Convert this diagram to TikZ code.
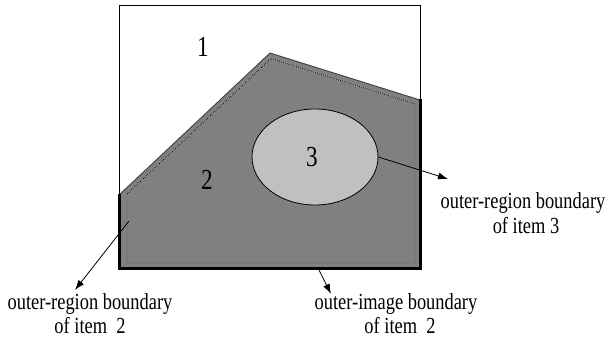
\documentclass[tikz,border=0pt]{standalone}
\usepackage{fontspec}
\setmainfont{Liberation Serif}
\newfontfamily\condserif[FakeStretch=0.8]{Liberation Serif}
\usetikzlibrary{shapes.geometric,arrows.meta}
\definecolor{regiongray}{HTML}{808080}
\definecolor{itemgray}{HTML}{C0C0C0}
\tikzset{
  lbl/.style={inner sep=0pt,anchor=base,font=\condserif\fontsize{23}{26}\selectfont},
  num/.style={inner sep=0pt,font=\condserif\fontsize{29}{32}\selectfont},
  pointer/.style={draw=black,line width=0.8pt,-{Latex[length=10pt,width=7pt]}},
  thickedge/.style={draw=black,line width=3pt},
  dottedunder/.style={draw=black!25,line width=0.8pt},
  dottedinner/.style={draw=black,line width=0.8pt,dash pattern=on 1pt off 1pt},
}
\begin{document}
\begin{tikzpicture}[x=1pt,y=-1pt]
\useasboundingbox (0,0) rectangle (605,343);
% outer square (item 1)
\draw[black,line width=0.8pt] (119,5) rectangle (420,268);
% region item 2
\fill[regiongray] (119,195) -- (270,53) -- (420,100) -- (420,268) -- (119,268) -- cycle;
\draw[black!75,line width=0.9pt] (119,195) -- (270,53) -- (420,100);
\draw[thickedge] (420,99) -- (420,268) -- (119,268) -- (119,194);
\draw[dottedunder] (127,194) -- (271,58.6) -- (415,104) -- (415,263) -- (127,263) -- cycle;
\draw[dottedinner] (127,194) -- (271,58.6) -- (415,104) -- (415,263) -- (127,263) -- cycle;
% item 3
\node[ellipse,draw=black,line width=0.8pt,fill=itemgray,minimum width=126pt,minimum height=96pt,inner sep=0pt] (e3) at (315,157) {};
\node[num] (n3) at (312,157) {3};
\node[num] (n1) at (203,47) {1};
\node[num] (n2) at (207,180) {2};
% labels
\node[lbl] (r3a) at (523,208) {outer-region boundary};
\node[lbl] (r3b) at (526,233) {of item 3};
\node[lbl] (r2a) at (90,309) {outer-region boundary};
\node[lbl] (r2b) at (90,333) {of item\ \ 2};
\node[lbl] (i2a) at (396,309) {outer-image boundary};
\node[lbl] (i2b) at (400,333) {of item\ \ 2};
% pointer ends
\coordinate (s2) at (129,221);
\coordinate (t2) at (75,290);
\coordinate (s3) at (318,268);
\coordinate (t3) at (331,294);
\coordinate (t1) at (448,179);
\draw[pointer] (e3.east) -- (t1);
\draw[pointer] (s2) -- (t2);
\draw[pointer] (s3) -- (t3);
\end{tikzpicture}
\end{document}
